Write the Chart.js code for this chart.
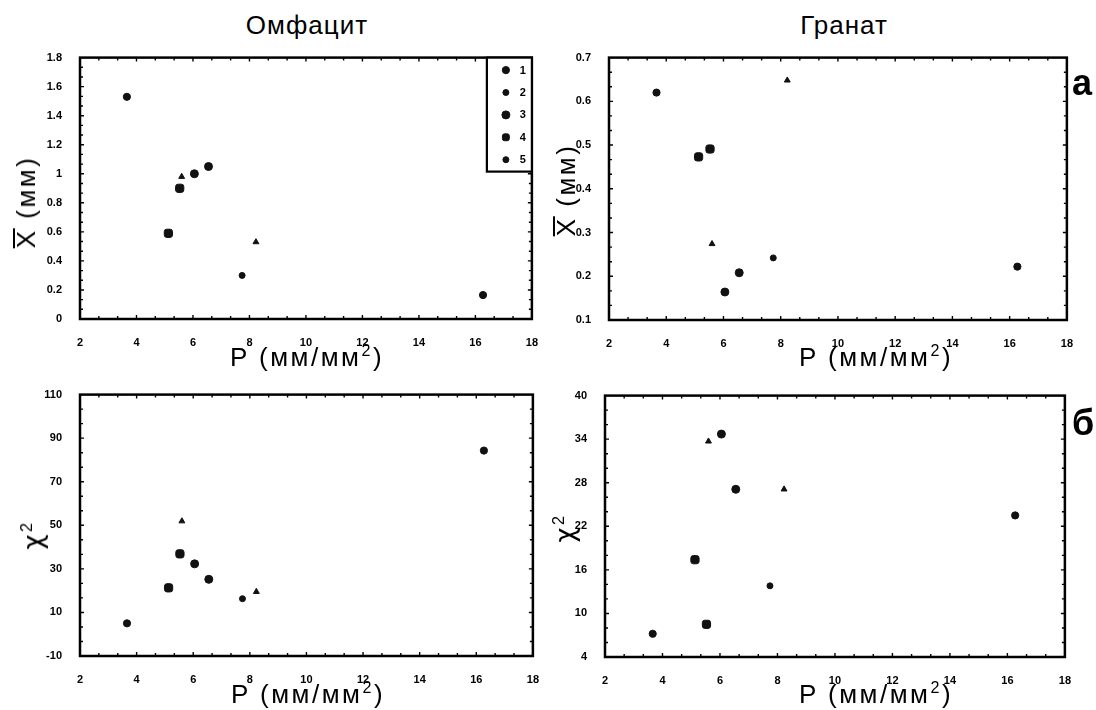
<!DOCTYPE html>
<html>
<head>
<meta charset="utf-8">
<script src="https://cdn.jsdelivr.net/npm/chart.js@4.4.1/dist/chart.umd.min.js"></script>
<style>
  body { margin: 0; background: #fff; }
  #fig { position: relative; width: 1096px; height: 710px; overflow: hidden;
         font-family: 'Liberation Sans', Arial, sans-serif; color: #000; }
  canvas { position: absolute; }
  .t { position: absolute; transform: translate(-50%, -50%); white-space: nowrap; line-height: 1; }
  .rot { transform: translate(-50%, -50%) rotate(-90deg); }
  .head { font-size: 26px; letter-spacing: 1px; }
  .ax { font-size: 26px; letter-spacing: 2.5px; }
  .tag { font-size: 36px; font-weight: bold; }
  .ov { display: inline-block; line-height: 0.74; border-top: 2px solid #000; padding-top: 2px; }
  .chi { font-family: 'DejaVu Sans', sans-serif; }
  sup { font-size: 0.62em; vertical-align: 0.6em; line-height: 0; }
</style>
</head>
<body>
<div id="fig">
  <canvas id="c1" width="527" height="306" style="left:20px;top:41px"></canvas>
  <canvas id="c2" width="533" height="307" style="left:549px;top:41px"></canvas>
  <canvas id="c3" width="528" height="306" style="left:20px;top:378px"></canvas>
  <canvas id="c4" width="535" height="306" style="left:545px;top:379px"></canvas>

  <div class="t head" style="left:307px;top:25px">Омфацит</div>
  <div class="t head" style="left:844px;top:25px">Гранат</div>

  <div class="t ax rot" style="left:26px;top:202px"><span class="ov">X</span> (мм)</div>
  <div class="t ax rot" style="left:566px;top:190px"><span class="ov">X</span> (мм)</div>
  <div class="t ax rot" style="left:33px;top:535px"><span class="chi">χ</span><sup>2</sup></div>
  <div class="t ax rot" style="left:565px;top:528px"><span class="chi">χ</span><sup>2</sup></div>

  <div class="t ax" style="left:307px;top:357px">P (мм/мм<sup>2</sup>)</div>
  <div class="t ax" style="left:876px;top:357px">P (мм/мм<sup>2</sup>)</div>
  <div class="t ax" style="left:308px;top:694px">P (мм/мм<sup>2</sup>)</div>
  <div class="t ax" style="left:876px;top:694px">P (мм/мм<sup>2</sup>)</div>

  <div class="t tag" style="left:1082px;top:83px">а</div>
  <div class="t tag" style="left:1083px;top:423px">б</div>
</div>

<script>
// samples: pressure P and group number (legend 1..5)
const pressure = [3.66, 5.13, 5.53, 5.60, 6.05, 6.55, 7.74, 8.23, 16.27];
const sampleSeries = ['1', '4', '4', '2', '3', '3', '5', '2', '1'];
const seriesLabels = ['1', '2', '3', '4', '5'];

// mean grain size (mm) and chi^2
const omphaciteMean = [1.53, 0.59, 0.90, 0.98, 1.00, 1.05, 0.30, 0.53, 0.165];
const garnetMean = [0.62, 0.473, 0.491, 0.274, 0.164, 0.208, 0.242, 0.648, 0.222];
const omphaciteChi2 = [5.0, 21.3, 36.9, 51.9, 32.3, 25.2, 16.3, 19.5, 84.3];
const garnetChi2 = [7.2, 17.4, 8.5, 33.7, 34.7, 27.1, 13.8, 27.1, 23.5];

// tick labels
const pTicks = [2, 4, 6, 8, 10, 12, 14, 16, 18];
const omphMeanTicks = [0, 0.2, 0.4, 0.6, 0.8, 1, 1.2, 1.4, 1.6, 1.8];
const garnetMeanTicks = [0.1, 0.2, 0.3, 0.4, 0.5, 0.6, 0.7];
const omphChiTicks = [-10, 10, 30, 50, 70, 90, 110];
const garnetChiTicks = [4, 10, 16, 22, 28, 34, 40];

const markerStyle = {
  '1': { pointStyle: 'circle', radius: 3.6 },
  '2': { pointStyle: 'triangle', radius: 3.4 },
  '3': { pointStyle: 'circle', radius: 4 },
  '4': { pointStyle: 'rectRounded', radius: 4.8 },
  '5': { pointStyle: 'circle', radius: 3 },
};

Chart.defaults.color = '#000';
Chart.defaults.font.family = "'Liberation Sans', Arial, sans-serif";

function buildDatasets(values) {
  return seriesLabels.map(s => {
    const pts = [];
    pressure.forEach((p, i) => {
      if (sampleSeries[i] === s) pts.push({ x: p, y: values[i] });
    });
    return {
      label: s,
      data: pts,
      pointStyle: markerStyle[s].pointStyle,
      pointRadius: markerStyle[s].radius,
      pointBackgroundColor: '#111',
      pointBorderColor: '#111',
      pointBorderWidth: 1,
      showLine: false,
    };
  });
}

// frame with small inward ticks (3 per major interval)
const framePlugin = {
  id: 'frame',
  beforeDatasetsDraw(chart) {
    const { ctx, chartArea: a, scales } = chart;
    ctx.save();
    ctx.strokeStyle = '#000';
    ctx.lineWidth = 1.4;
    ctx.beginPath();
    const xs = scales.x, ys = scales.y;
    const xt = xs.ticks.map(t => t.value), yt = ys.ticks.map(t => t.value);
    for (let i = 0; i < xt.length - 1; i++) {
      for (let k = 1; k < 3; k++) {
        const px = xs.getPixelForValue(xt[i] + (xt[i + 1] - xt[i]) * k / 3);
        ctx.moveTo(px, a.bottom); ctx.lineTo(px, a.bottom - 3);
        ctx.moveTo(px, a.top); ctx.lineTo(px, a.top + 3);
      }
      const px = xs.getPixelForValue(xt[i]);
      ctx.moveTo(px, a.bottom); ctx.lineTo(px, a.bottom - 4);
      ctx.moveTo(px, a.top); ctx.lineTo(px, a.top + 4);
    }
    for (let i = 0; i < yt.length - 1; i++) {
      for (let k = 1; k < 3; k++) {
        const py = ys.getPixelForValue(yt[i] + (yt[i + 1] - yt[i]) * k / 3);
        ctx.moveTo(a.left, py); ctx.lineTo(a.left + 3, py);
        ctx.moveTo(a.right, py); ctx.lineTo(a.right - 3, py);
      }
      const py = ys.getPixelForValue(yt[i]);
      ctx.moveTo(a.left, py); ctx.lineTo(a.left + 4, py);
      ctx.moveTo(a.right, py); ctx.lineTo(a.right - 4, py);
    }
    ctx.stroke();
    ctx.lineWidth = 2.5;
    ctx.strokeRect(a.left, a.top, a.right - a.left, a.bottom - a.top);
    ctx.restore();
  }
};

// boxed legend inside the plot, top right corner
const boxLegend = {
  id: 'boxLegend',
  afterDatasetsDraw(chart, args, opts) {
    if (!opts.display) return;
    const { ctx, chartArea: a } = chart;
    const w = 45, h = 114, rowH = 22.4;
    const left = a.right - w, top = a.top;
    ctx.save();
    ctx.fillStyle = '#fff';
    ctx.fillRect(left, top, w, h);
    ctx.strokeStyle = '#000';
    ctx.lineWidth = 2.2;
    ctx.strokeRect(left, top, w, h);
    ctx.font = "bold 11px 'Liberation Sans', Arial, sans-serif";
    ctx.textAlign = 'center';
    ctx.textBaseline = 'middle';
    chart.data.datasets.forEach((ds, i) => {
      const y = top + 12.5 + i * rowH;
      ctx.fillStyle = '#111';
      ctx.strokeStyle = '#111';
      ctx.lineWidth = 1;
      const r = ds.pointStyle === 'triangle' ? 3 : Math.min(ds.pointRadius, 4);
      if (Chart.helpers && Chart.helpers.drawPoint) {
        Chart.helpers.drawPoint(ctx, { pointStyle: ds.pointStyle === 'triangle' ? 'circle' : ds.pointStyle, radius: r, rotation: 0, borderWidth: 1 }, a.right - 26, y);
      } else {
        ctx.beginPath(); ctx.arc(a.right - 26, y, r, 0, Math.PI * 2); ctx.fill();
      }
      ctx.fillStyle = '#000';
      ctx.fillText(ds.label, a.right - 9, y + 0.5);
    });
    ctx.restore();
  }
};

function fmt(v) { return String(+Number(v).toFixed(2)); }

function makePanel(id, values, yTicks, withLegend) {
  const tickFont = { size: 11, weight: 'bold' };
  new Chart(document.getElementById(id), {
    type: 'scatter',
    data: { datasets: buildDatasets(values) },
    options: {
      responsive: false,
      animation: false,
      layout: { padding: { left: 0, top: 12, right: 14, bottom: 0 } },
      plugins: {
        legend: { display: false },
        tooltip: { enabled: false },
        boxLegend: { display: withLegend },
      },
      scales: {
        x: {
          type: 'linear', min: pTicks[0], max: pTicks[pTicks.length - 1],
          afterBuildTicks: s => { s.ticks = pTicks.map(v => ({ value: v })); },
          afterFit: s => { s.height = 28; },
          grid: { display: false },
          border: { display: false },
          ticks: { font: tickFont, padding: 9, maxRotation: 0, autoSkip: false, callback: fmt },
        },
        y: {
          type: 'linear', min: yTicks[0], max: yTicks[yTicks.length - 1],
          afterBuildTicks: s => { s.ticks = yTicks.map(v => ({ value: v })); },
          afterFit: s => { s.width = 60; },
          grid: { display: false },
          border: { display: false },
          ticks: { font: tickFont, padding: 10, autoSkip: false, callback: fmt },
        }
      }
    },
    plugins: [framePlugin, boxLegend]
  });
}

makePanel('c1', omphaciteMean, omphMeanTicks, true);
makePanel('c2', garnetMean, garnetMeanTicks, false);
makePanel('c3', omphaciteChi2, omphChiTicks, false);
makePanel('c4', garnetChi2, garnetChiTicks, false);
</script>
</body>
</html>
